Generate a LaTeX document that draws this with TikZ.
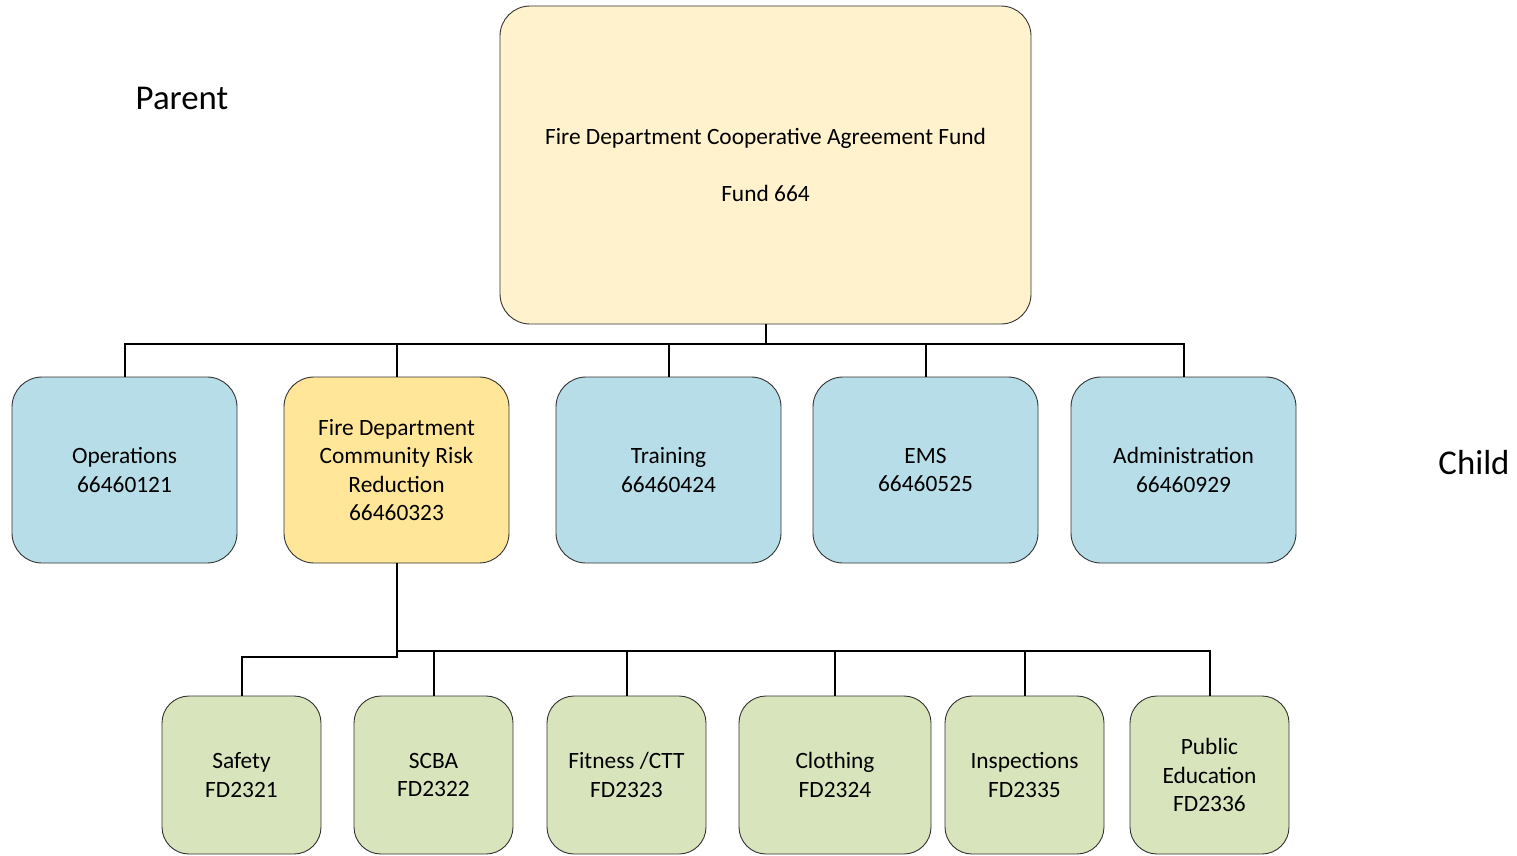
\documentclass[tikz,border=0pt]{standalone}
\usepackage{fontspec}
\setmainfont{Carlito}
\begin{document}
\begin{tikzpicture}[x=1pt,y=-1pt,
  box/.style={draw=black!80, line width=0.9pt, rounded corners=30pt, align=center, inner sep=0pt,
    font=\fontsize{23.4}{28.5}\selectfont},
  topbox/.style={box, fill=topfill, minimum width=531pt, minimum height=318pt},
  midbox/.style={box, fill=bluefill, minimum width=225pt, minimum height=186pt},
  crrbox/.style={midbox, fill=crrfill},
  lowbox/.style={box, fill=greenfill, rounded corners=27pt, minimum width=159pt, minimum height=158pt},
  conn/.style={draw=black, line width=2pt},
  lbl/.style={font=\fontsize{34.8}{40}\selectfont, inner sep=0pt}
]
\definecolor{topfill}{HTML}{FFF2CC}
\definecolor{crrfill}{HTML}{FFE699}
\definecolor{bluefill}{HTML}{B7DDE8}
\definecolor{greenfill}{HTML}{D8E4BC}
\useasboundingbox (0,0) rectangle (1517,855);

\node[topbox] (top) at (765.5,165) {Fire Department Cooperative Agreement Fund\\[\baselineskip]Fund 664};

\node[midbox] (ops) at (124.5,470) {Operations\\66460121};
\node[crrbox] (crr) at (396.5,470) {Fire Department\\Community Risk\\Reduction\\66460323};
\node[midbox] (trn) at (668.5,470) {Training\\66460424};
\node[midbox] (ems) at (925.5,470) {EMS\\66460525};
\node[midbox] (adm) at (1183.5,470) {Administration\\66460929};

\node[lowbox] (saf) at (241.5,775) {Safety\\FD2321};
\node[lowbox] (scba) at (433.5,775) {SCBA\\FD2322};
\node[lowbox] (fit) at (626.5,775) {Fitness /CTT\\FD2323};
\node[lowbox, minimum width=192pt] (clo) at (835,775) {Clothing\\FD2324};
\node[lowbox] (insp) at (1024.5,775) {Inspections\\FD2335};
\node[lowbox] (pub) at (1209.5,775) {Public\\Education\\FD2336};

\node[lbl] (parent) at (182,98) {Parent};
\node[lbl] (child) at (1474,463) {Child};

\draw[conn] (top.south) -- ++(0,20) coordinate (busa);
\foreach \n in {ops,crr,trn,ems,adm} \draw[conn] (busa) -| (\n.north);

\draw[conn] (crr.south) -- ++(0,88) coordinate (busb);
\foreach \n in {scba,fit,clo,insp,pub} \draw[conn] (busb) -| (\n.north);
\draw[conn] (crr.south) -- ++(0,94) -| (saf.north);
\end{tikzpicture}
\end{document}
